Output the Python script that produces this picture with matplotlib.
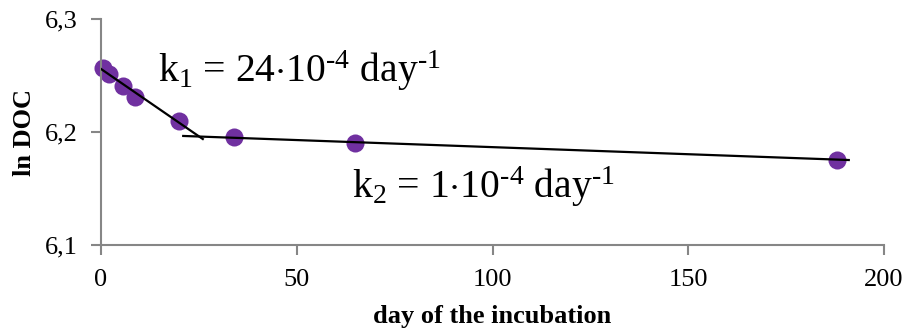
import numpy as np
import matplotlib.pyplot as plt

plt.rcParams['font.family'] = ['Liberation Serif', 'DejaVu Serif']
plt.rcParams['mathtext.fontset'] = 'custom'
plt.rcParams['mathtext.rm'] = 'Liberation Serif'
plt.rcParams['mathtext.it'] = 'Liberation Serif:italic'

# measured ln DOC over the incubation
days = [0.4, 2, 5.5, 8.7, 20, 34, 65, 188]
ln_doc = [6.257, 6.251, 6.241, 6.231, 6.210, 6.196, 6.190, 6.175]

# two linear fits (end points)
fit1_x = [0, 26]
fit1_y = [6.2558, 6.1938]
fit2_x = [21, 191]
fit2_y = [6.1965, 6.1752]

grey = '#868686'
purple = '#7030A0'

fig = plt.figure(figsize=(9.08, 3.30), dpi=100)
ax = fig.add_axes([101/908, 1 - 245/330, (884-101)/908, (245-19)/330])

ax.plot(days, ln_doc, 'o', color=purple, markersize=13, markeredgewidth=0,
        zorder=2, clip_on=False)
ax.plot(fit1_x, fit1_y, color='k', lw=1.6, zorder=3)
ax.plot(fit2_x, fit2_y, color='k', lw=1.6, zorder=3)

ax.set_xlim(0, 200)
ax.set_ylim(6.1, 6.3)
ax.set_xticks([0, 50, 100, 150, 200])
ax.set_yticks([6.1, 6.2, 6.3])
ax.set_yticklabels(['6,1', '6,2', '6,3'])

for s in ['top', 'right']:
    ax.spines[s].set_visible(False)
for s in ['left', 'bottom']:
    ax.spines[s].set_color(grey)
    ax.spines[s].set_linewidth(1.5)
ax.tick_params(colors=grey, labelcolor='black', labelsize=19, width=1.5, length=7)
ax.tick_params(axis='x', pad=10)
ax.tick_params(axis='y', pad=10)

ax.set_xlabel('day of the incubation', fontsize=19, fontweight='bold', labelpad=10)
ax.set_ylabel('ln DOC', fontsize=19, fontweight='bold', labelpad=6)

ax.text(14.5, 6.2442, 'k$_1$ = 24$\\cdot$10$^{\u20104}$ day$^{\u20101}$',
        fontsize=28.5, va='baseline', ha='left')
ax.text(64, 6.1416, 'k$_2$ = 1$\\cdot$10$^{\u20104}$ day$^{\u20101}$',
        fontsize=28.5, va='baseline', ha='left')

fig.savefig('out.png', dpi=100)
